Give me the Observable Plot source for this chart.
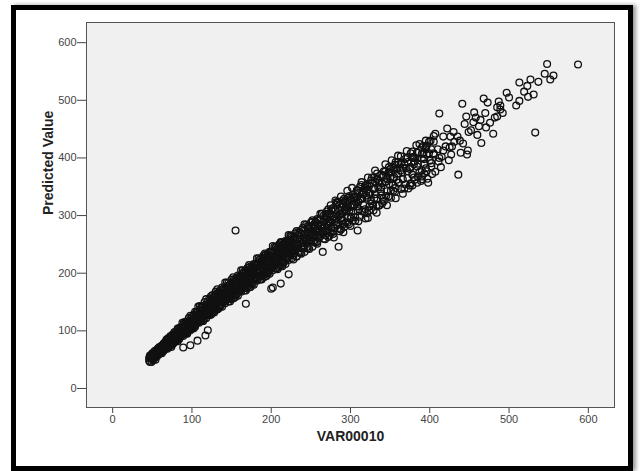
<!DOCTYPE html>
<html><head><meta charset="utf-8">
<script src="https://cdn.jsdelivr.net/npm/d3@7"></script>
<script src="https://cdn.jsdelivr.net/npm/@observablehq/plot@0.6"></script>
<style>
html,body{margin:0;padding:0;background:#fff;}
#wrap{position:relative;width:640px;height:471px;overflow:hidden;}
#border{position:absolute;left:11px;top:5px;width:622px;height:466px;box-sizing:border-box;border:5px solid #000;pointer-events:none;box-shadow:3px 0 4px #999;z-index:2;}
svg{display:block;position:absolute;left:0;top:0;}
</style></head><body><div id="wrap"><div id="border"></div></div>
<script>
// [VAR00010, Predicted Value]
const bandLow = [[46,53],[46,48],[47,57],[47,46],[48,52],[48,56],[49,46],[49,54],[50,61],[50,51],[51,49],[51,57],[52,61],[52,55],[53,53],[53,65],[54,50],[54,61],[55,59],[55,57],[56,67],[56,56],[57,64],[57,69],[58,60],[58,66],[59,64],[59,72],[60,61],[60,70],[61,64],[61,67],[62,74],[62,61],[63,72],[63,67],[64,75],[64,66],[65,72],[65,79],
[66,78],[66,72],[67,82],[67,69],[68,76],[68,81],[69,69],[69,78],[70,86],[70,74],[71,72],[71,81],[72,86],[72,79],[73,76],[73,91],[74,72],[74,86],[75,83],[75,81],[76,90],[76,77],[77,86],[77,92],[78,81],[78,88],[79,86],[79,95],[80,82],[80,93],[81,85],[81,89],[82,97],[82,82],[83,95],[83,89],[84,98],[84,87],[85,94],[85,103],
[86,102],[86,95],[87,107],[87,92],[88,100],[88,106],[89,91],[89,102],[90,112],[90,98],[91,95],[91,106],[92,111],[92,103],[93,99],[93,116],[94,95],[94,110],[95,107],[95,104],[96,115],[96,100],[97,110],[97,117],[98,104],[98,113],[99,110],[99,121],[100,105],[100,118],[101,109],[101,113],[102,122],[102,104],[103,119],[103,112],[104,123],[104,110],[105,118],[105,128]];
const bandMid = [[106,127],[106,119],[107,133],[107,115],[108,124],[108,130],[109,114],[109,127],[110,137],[110,121],[111,117],[111,130],[112,136],[112,126],[113,123],[113,142],[114,117],[114,135],[115,131],[115,128],[116,140],[116,122],[117,135],[117,143],[118,128],[118,137],[119,133],[119,146],[120,128],[120,142],[121,132],[121,137],[122,148],[122,127],[123,144],[123,136],[124,148],[124,134],[125,143],[125,154],
[126,150],[126,141],[127,157],[127,137],[128,147],[128,154],[129,135],[129,150],[130,162],[130,144],[131,139],[131,154],[132,160],[132,149],[133,145],[133,166],[134,139],[134,158],[135,154],[135,150],[136,164],[136,144],[137,158],[137,167],[138,150],[138,161],[139,156],[139,171],[140,150],[140,166],[141,155],[141,160],[142,172],[142,148],[143,167],[143,158],[144,172],[144,156],[145,166],[145,178],
[146,172],[146,162],[147,179],[147,157],[148,168],[148,176],[149,155],[149,171],[150,184],[150,164],[151,159],[151,175],[152,182],[152,170],[153,165],[153,189],[154,158],[154,180],[155,175],[155,171],[156,186],[156,164],[157,179],[157,191],[158,170],[158,182],[159,177],[159,193],[160,170],[160,188],[161,175],[161,181],[162,194],[162,168],[163,189],[163,179],[164,194],[164,176],[165,187],[165,201],
[166,193],[166,182],[167,200],[167,176],[168,188],[168,197],[169,174],[169,191],[170,205],[170,183],[171,178],[171,195],[172,203],[172,190],[173,184],[173,211],[174,176],[174,201],[175,195],[175,191],[176,207],[176,183],[177,199],[177,210],[178,189],[178,202],[179,197],[179,214],[180,189],[180,209],[181,194],[181,201],[182,215],[182,187],[183,210],[183,199],[184,215],[184,195],[185,207],[185,223],
[186,213],[186,201],[187,221],[187,195],[188,208],[188,218],[189,192],[189,211],[190,227],[190,203],[191,197],[191,216],[192,224],[192,210],[193,203],[193,232],[194,195],[194,221],[195,215],[195,210],[196,228],[196,202],[197,219],[197,231],[198,208],[198,223],[199,217],[199,236],[200,208],[200,230],[201,214],[201,221],[202,236],[202,205],[203,230],[203,218],[204,236],[204,214],[205,227],[205,244]];
const bandHigh = [[206,233],[206,220],[207,242],[207,213],[208,227],[208,237],[209,210],[209,231],[210,247],[210,221],[211,214],[211,235],[212,244],[212,228],[213,222],[213,253],[214,212],[214,241],[215,234],[215,229],[216,248],[216,219],[217,239],[217,252],[218,227],[218,242],[219,235],[219,256],[220,226],[220,249],[221,232],[221,240],[222,257],[222,223],[223,250],[223,237],[224,256],[224,233],[225,247],[225,265],
[206.5,226],[208.5,228],[210.5,232],[212.5,230],[214.5,236],[216.5,234],[218.5,240],[220.5,238],[222.5,244],[224.5,242],
[226,251],[226,237],[228,262],[228,231],[230,247],[230,258],[232,229],[232,252],[234,271],[234,243],[236,236],[236,259],[238,269],[238,252],[240,246],[240,279],[242,237],[242,267],[244,261],[244,255],[246,277],[246,246],[248,268],[248,282],[250,256],[250,273],[252,266],[252,289],[254,257],[254,282],[256,265],[256,273],[258,292],[258,255],[260,285],[260,271],[262,293],[262,268],[264,284],[264,303],
[227,245],[229,243],[231,250],[233,248],[235,255],[237,251],[239,259],[241,256],[243,262],[245,259],[247,266],[249,262],[251,270],[253,267],[255,274],[257,270],[259,278],[261,274],[263,282],[265,278]];
const bandUpper = [[266,289],[266,273],[268.5,301],[268.5,266],[271,284],[271,297],[273.5,265],[273.5,290],[276,311],[276,279],[278.5,273],[278.5,298],[281,310],[281,291],[283.5,284],[283.5,323],[286,273],[286,309],[288.5,302],[288.5,296],[291,320],[291,285],[293.5,310],[293.5,326],[296,296],[296,315],[298.5,309],[298.5,334],[301,298],[301,327],[303.5,307],[303.5,317],[306,338],[306,297],[308.5,332],[308.5,316],[311,340],[311,311],[313.5,330],[313.5,353],
[316,337],[316,319],[318.5,351],[318.5,311],[321,331],[321,345],[323.5,309],[323.5,338],[326,361],[326,325],[328.5,317],[328.5,346],[331,359],[331,337],[333.5,330],[333.5,373],[336,317],[336,357],[338.5,349],[338.5,342],[341,369],[341,329],[343.5,358],[343.5,376],[346,342],[346,363],[348.5,355],[348.5,384],[351,343],[351,375],[353.5,353],[353.5,364],[356,388],[356,341],[358.5,380],[358.5,362],[361,389],[361,357],[363.5,378],[363.5,403],
[366,383],[366,363],[369,398],[369,354],[372,377],[372,393],[375,352],[375,384],[378,411],[378,371],[381,362],[381,394],[384,409],[384,385],[387,376],[387,424],[390,363],[390,407],[393,398],[393,390],[396,421],[396,377],[399,408],[399,428],[402,391],[402,415],[405,406],[405,438],
[267,281],[270,283],[272,287],[275,288],[277,293],[280,294],[282,298],[285,299],[287,303],[290,304],[292,308],[295,309],[297,314],[300,315],[302,319],[305,319],[307,323],[310,324],[312,328],[315,329],[320,335],[325,339],[330,346],[335,349],[340,356],[345,359],[350,365],[355,367],[360,373],[365,375],[370,382],[380,389],[390,399],
[304,331],[308,344],[319,352],[334,364],[349,375],[354,383],[364,392],[379,400],[392,409],[271,303],[282,319],[256,288]];
const bandSpread = [[52,61],[52,53],[54,62],[54,54],[56,67],[56,60],[58,70],[58,59],[60,71],[60,62],[62,74],[62,64],[64,77],[64,65],[66,79],[66,69],[68,85],[68,72],[70,87],[70,76],
[72,88],[72,74],[74,89],[74,75],[76,94],[76,82],[78,98],[78,80],[80,97],[80,84],[82,101],[82,85],[84,105],[84,86],[86,106],[86,92],[88,114],[88,95],[90,115],[90,100],
[92,115],[92,96],[94,115],[94,96],[96,122],[96,105],[98,126],[98,101],[100,124],[100,106],[102,128],[102,107],[104,133],[104,107],[106,133],[106,114],[108,142],[108,118],[110,143],[110,123],
[112,143],[112,117],[114,142],[114,117],[116,150],[116,128],[118,155],[118,122],[120,151],[120,128],[122,156],[122,129],[124,160],[124,128],
[126,162],[126,132],[128,160],[128,132],[130,168],[130,144],[132,172],[132,137],[134,167],[134,143],[136,171],[136,143],[138,175],[138,142],[140,174],[140,150],[142,184],[142,154],[144,184],[144,160],
[146,183],[146,151],[148,180],[148,151],[150,189],[150,163],[152,193],[152,156],[154,187],[154,162],[156,192],[156,162],[158,196],[158,161],[160,194],[160,169],[162,205],[162,173],[164,205],[164,180],
[166,203],[166,170],[168,201],[168,170],[170,209],[170,183],[172,214],[172,175],[174,208],[174,182],[176,212],[176,181],[178,216],[178,180],[180,215],[180,189],[182,226],[182,193],[184,226],[184,199],
[186,224],[186,189],[188,221],[188,189],[190,230],[190,202],[192,234],[192,194],[194,228],[194,201],[196,233],[196,200],[198,237],[198,199],[200,236],[200,208],[202,247],[202,212],[204,246],[204,219],
[206,244],[206,208],[208,241],[208,207],[210,250],[210,221],[212,254],[212,212],[214,248],[214,219],[216,252],[216,219],[218,256],[218,216],[220,254],[220,225],[222,266],[222,230],[224,265],[224,236],
[226,263],[226,226],[228,259],[228,224],[230,269],[230,238],[232,273],[232,229],[234,266],[234,236],[236,271],[236,236],[238,275],[238,234],[240,273],[240,243],[242,285],[242,247],[244,284],[244,254],
[246,282],[246,243],[248,278],[248,242],[250,288],[250,257],[252,292],[252,246],[254,285],[254,254],[256,289],[256,253],[258,294],[258,251],[260,292],[260,261],[262,303],[262,264],[264,303],[264,272],
[266,300],[266,260],[268,297],[268,259],[270,307],[270,274],[272,311],[272,263],[274,303],[274,271],[276,308],[276,270],[278,313],[278,268],[280,310],[280,278],[282,323],[282,283],[284,322],[284,289],
[286,319],[286,277],[288,315],[288,276],[290,326],[290,292],[292,329],[292,280],[294,322],[294,288],[296,326],[296,287],[298,331],[298,285],[300,329],[300,295],
[303,336],[303,291],[306,333],[306,291],[309,344],[309,308],[312,350],[312,298],[315,343],[315,307],[318,348],[318,306],[321,354],[321,304],[324,352],[324,316],[327,366],[327,321],[330,366],[330,330],
[333,363],[333,318],[336,360],[336,318],[339,371],[339,335],[342,377],[342,325],[345,370],[345,334],[348,375],[348,333],[351,381],[351,331],[354,379],[354,343],[357,393],[357,348],[360,393],[360,357],
[364,391],[364,346],[368,389],[368,347],[372,401],[372,365],[376,408],[376,356],[380,402],[380,366],[385,409],[385,368],[390,418],[390,368],[395,418],[395,382]];
const edgeScatter = [[275,318],[281,326],[288,333],[296,343],[302,348],[314,358],[322,366],[331,378],[344,389],[352,396],[360,404],[371,412],[383,422],[395,430],[407,442],
[279,262],[291,271],[300,282],[310,290],[322,296],[333,305],[346,318],[357,330],[366,338],[378,352],[389,360],[403,372],[414,384],[424,396]];
const tail = [[548,563],[587,562],[545,546],[556,543],[552,536],[513,531],[527,536],[537,532],[523,525],[519,515],[531,510],[524,506],[497,513],[513,499],[509,491],[468,503],[473,496],[441,494],[412,477],[487,498],[489,491],[485,488],[489,484],[456,479],[458,470],[464,466],[485,472],[482,470],[476,461],[471,453],[446,472],[444,459],[449,445],[460,440],[465,426],[480,442],[422,451],[435,437],[426,437],[417,437],[431,428],[401,430],[405,428],[392,421],[417,413],[427,406],[439,409],[448,413],[447,406],[411,394],[396,406],[405,408],[393,373],[398,357],[407,376],[384,399],[378,401],[375,381],
[420,420],[430,445],[415,402],[425,418],[438,430],[410,415],[400,395],[395,415],[385,390],[390,378],[402,385],[412,400],[428,420],[442,425],[452,448],[455,462],[462,455],[470,478],[492,478],[500,505]];
const outliers = [[155,274],[533,444],[436,371],[89,71],[98,75],[107,83],[117,92],[120,101],[82,104],[134,165],[170,196],[168,147],[224,257],[285,246],[265,237],[212,182],[202,175],[222,198],[309,274],[319,295],[329,309],[340,321],[373,347],[384,357],[397,364],[233,260],[223,257],[200,173]];

const xTicks = [0,100,200,300,400,500,600];
const yTicks = [0,100,200,300,400,500,600];
const xTitle = "VAR00010";
const yTitle = "Predicted Value";

const points = [...bandLow, ...bandMid, ...bandHigh, ...bandUpper, ...bandSpread, ...edgeScatter, ...tail, ...outliers];

const chart = Plot.plot({
  width: 640, height: 471,
  marginLeft: 86, marginRight: 26, marginTop: 22, marginBottom: 64,
  style: {fontFamily: "'Liberation Sans', Arial, sans-serif", fontSize: "11px", color: "#444", background: "transparent"},
  x: {domain: [-33, 633], ticks: xTicks, tickSize: 6, tickPadding: 2, label: null},
  y: {domain: [-33, 635], ticks: yTicks, tickSize: 9, tickPadding: 1, label: null},
  marks: [
    Plot.frame({fill: "#f0f0f0", stroke: "none"}),
    Plot.dot(points, {x: d => d[0], y: d => d[1], r: 3.4, stroke: "#111", strokeWidth: 1.3, fill: "none"}),
    Plot.frame({stroke: "#555", fill: "none"}),
    Plot.text([xTitle], {frameAnchor: "bottom", dy: 33, text: d => d, fontWeight: "bold", fontSize: 14, fill: "#222"}),
    Plot.text([yTitle], {frameAnchor: "left", dx: -38, rotate: -90, text: d => d, fontWeight: "bold", fontSize: 14, fill: "#222"})
  ]
});
document.getElementById("wrap").insertBefore(chart, document.getElementById("border"));
</script>
</body></html>
